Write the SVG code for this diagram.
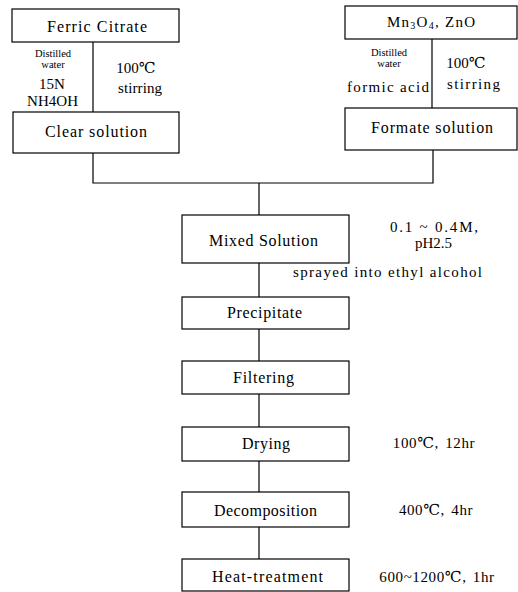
<svg xmlns="http://www.w3.org/2000/svg" width="518" height="592" viewBox="0 0 518 592">
<style>
.b{fill:#fff;stroke:#000;stroke-width:1.2}
.c{fill:none;stroke:#000;stroke-width:1.2}
text{font-family:"Liberation Serif","DejaVu Serif",serif;fill:#000;font-size:15px}
.L{font-size:16px}
.m{text-anchor:middle}
.s{font-size:10.5px}
.w{letter-spacing:0.6px;word-spacing:2px}
</style>
<rect width="518" height="592" fill="#fff"/>
<g id="connectors">
<path class="c" d="M93 42V112M93 153V183H433V150M432 39V108M259 183V215M259 263V297M259 329V361M259 394V427M259 461V492M259 527V559"/>
</g>
<g id="ferric">
<rect class="b" x="12" y="9" width="167" height="33"/>
<text class="L" x="47" y="32" textLength="100">Ferric Citrate</text>
</g>
<g id="left-cond">
<text class="s m" x="53" y="57">Distilled</text>
<text class="s m" x="53" y="68">water</text>
<text class="m" x="52" y="89">15N</text>
<text x="27" y="106" textLength="51">NH4OH</text>
<text class="m" x="136" y="73">100℃</text>
<text x="118" y="93" textLength="44">stirring</text>
</g>
<g id="clear">
<rect class="b" x="13" y="112" width="166" height="41"/>
<text class="L" x="45" y="137" textLength="102">Clear solution</text>
</g>
<g id="mn">
<rect class="b" x="345" y="6" width="172" height="33"/>
<text x="387" y="27" textLength="88">Mn<tspan font-size="10" dy="2">3</tspan><tspan dy="-2">O</tspan><tspan font-size="10" dy="2">4</tspan><tspan dy="-2">, ZnO</tspan></text>
</g>
<g id="right-cond">
<text class="s m" x="389" y="56">Distilled</text>
<text class="s m" x="389" y="67">water</text>
<text x="347" y="92" textLength="82">formic acid</text>
<text class="m" x="466" y="68">100℃</text>
<text x="447" y="89" textLength="53">stirring</text>
</g>
<g id="formate">
<rect class="b" x="345" y="108" width="172" height="42"/>
<text class="L" x="371" y="133" textLength="122">Formate solution</text>
</g>
<g id="mixed">
<rect class="b" x="182" y="215" width="167" height="48"/>
<text class="L" x="209" y="246" textLength="109">Mixed Solution</text>
</g>
<g id="mixed-note">
<text x="390" y="232" textLength="88">0.1 ~ 0.4M,</text>
<text x="415" y="248" textLength="37">pH2.5</text>
<text x="293" y="277" textLength="189">sprayed into ethyl alcohol</text>
</g>
<g id="precipitate">
<rect class="b" x="182" y="297" width="167" height="32"/>
<text class="L" x="227" y="318" textLength="75">Precipitate</text>
</g>
<g id="filtering">
<rect class="b" x="182" y="361" width="167" height="33"/>
<text class="L" x="233" y="383" textLength="61">Filtering</text>
</g>
<g id="drying">
<rect class="b" x="182" y="427" width="167" height="34"/>
<text class="L" x="242" y="449" textLength="48">Drying</text>
<text class="m w" x="434" y="448">100℃, 12hr</text>
</g>
<g id="decomposition">
<rect class="b" x="182" y="492" width="167" height="35"/>
<text class="L" x="214" y="516" textLength="103">Decomposition</text>
<text class="m w" x="436" y="515">400℃, 4hr</text>
</g>
<g id="heat">
<rect class="b" x="182" y="559" width="167" height="32"/>
<text class="L" x="212" y="582" textLength="111">Heat-treatment</text>
<text class="m w" x="437" y="582">600~1200℃, 1hr</text>
</g>
</svg>
